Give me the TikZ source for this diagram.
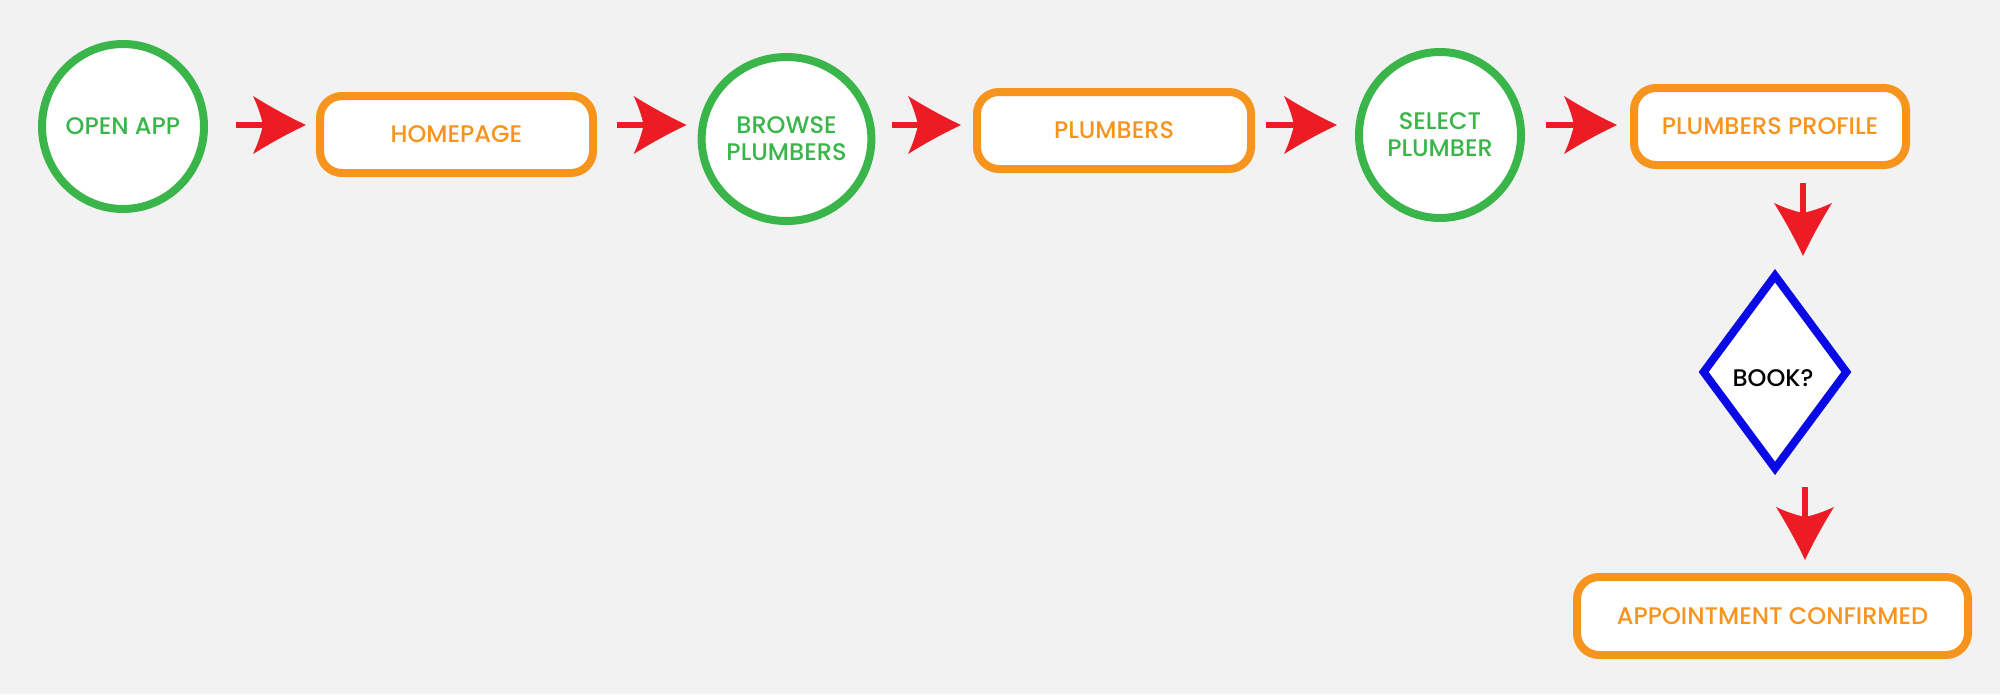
\documentclass[tikz,border=0pt]{standalone}
\usepackage{fontspec}
\setmainfont{Poppins Medium}
\usetikzlibrary{shapes.geometric,arrows.meta,calc}
\definecolor{bg}{HTML}{F2F2F2}
\definecolor{fgreen}{HTML}{3AB54A}
\definecolor{forange}{HTML}{F7941E}
\definecolor{fred}{HTML}{ED1C24}
\definecolor{fblue}{HTML}{0A0AE6}

\pgfdeclarearrow{
  name = Swoop,
  setup code = {
    \pgfarrowssettipend{0pt}
    \pgfarrowssetlineend{-40pt}
    \pgfarrowssetbackend{-53pt}
    \pgfarrowsupperhullpoint{0pt}{0pt}
    \pgfarrowsupperhullpoint{-53pt}{29pt}
  },
  drawing code = {
    \pgfpathmoveto{\pgfqpoint{0pt}{0pt}}
    \pgfpathquadraticcurveto{\pgfqpoint{-26.5pt}{12.5pt}}{\pgfqpoint{-53pt}{29pt}}
    \pgfpathquadraticcurveto{\pgfqpoint{-46pt}{14pt}}{\pgfqpoint{-43pt}{0pt}}
    \pgfpathquadraticcurveto{\pgfqpoint{-46pt}{-14pt}}{\pgfqpoint{-53pt}{-29pt}}
    \pgfpathquadraticcurveto{\pgfqpoint{-26.5pt}{-12.5pt}}{\pgfqpoint{0pt}{0pt}}
    \pgfpathclose
    \pgfusepathqfill
  }
}

\tikzset{
  lbl/.style={font=\fontsize{24}{27}\selectfont},
  circ/.style={ellipse, draw=fgreen, line width=8pt, fill=white, text=fgreen,
    inner sep=0pt, align=center, lbl},
  rbox/.style={rectangle, rounded corners=22pt, draw=forange, line width=8pt,
    fill=white, text=forange, inner sep=0pt, lbl},
  decide/.style={diamond, draw=fblue, line width=8pt, fill=white,
    inner sep=0pt},
  flow/.style={draw=fred, line width=6pt, -{Swoop}},
}

\begin{document}
\begin{tikzpicture}[x=1pt, y=-1pt]
\fill[bg] (0,0) rectangle (2000,694);
\useasboundingbox (0,0) rectangle (2000,694);

\node[circ, minimum width=162pt, minimum height=165pt] (open) at (123,126.5) {OPEN APP};
\node[rbox, minimum width=273pt, minimum height=77pt] (home) at (456.5,134.5) {HOMEPAGE};
\node[circ, minimum width=165pt, minimum height=164pt] (browse) at (786.5,139) {BROWSE\\PLUMBERS};
\node[rbox, minimum width=274pt, minimum height=77pt] (plumb) at (1114,130.5) {PLUMBERS};
\node[circ, minimum width=162pt, minimum height=166pt] (select) at (1440,135) {SELECT\\PLUMBER};
\node[rbox, minimum width=272pt, minimum height=77pt] (prof) at (1770,126.5) {PLUMBERS PROFILE};
\node[decide, minimum width=146pt, minimum height=196pt,
  label={[lbl, text=black, xshift=-2pt, yshift=-6pt]center:BOOK?}] (book) at (1775,372) {};
\node[rbox, minimum width=391pt, minimum height=78pt] (appt) at (1772.5,616) {APPOINTMENT CONFIRMED};

\coordinate (row) at (0,125);
\coordinate (col1) at (1803,0);
\coordinate (col2) at (1805,0);

\draw[flow, shorten <=28pt, shorten >=10pt] (open.east |- row) -- (home.west |- row);
\draw[flow, shorten <=20pt, shorten >=11pt] (home.east |- row) -- (browse.west |- row);
\draw[flow, shorten <=17pt, shorten >=12pt] (browse.east |- row) -- (plumb.west |- row);
\draw[flow, shorten <=11pt, shorten >=18pt] (plumb.east |- row) -- (select.west |- row);
\draw[flow, shorten <=21pt, shorten >=13pt] (select.east |- row) -- (prof.west |- row);
\draw[flow, shorten <=14pt, shorten >=14pt] (prof.south -| col1) -- (book.north -| col1);
\draw[flow, shorten <=13pt, shorten >=13pt] (book.south -| col2) -- (appt.north -| col2);
\end{tikzpicture}
\end{document}
